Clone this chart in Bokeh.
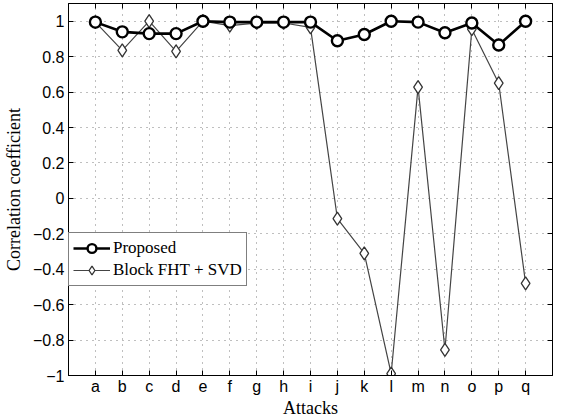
from bokeh.plotting import figure
from bokeh.models import (FixedTicker, LinearAxis, Legend, LegendItem, Range1d)
from bokeh.embed import file_html
from bokeh.resources import INLINE

attacks = list("abcdefghijklmnopq")
proposed = [0.995, 0.94, 0.93, 0.93, 1.0, 0.995, 0.995, 0.995, 0.995,
            0.89, 0.925, 1.0, 0.995, 0.935, 0.99, 0.866, 1.0]
block_fht_svd = [0.995, 0.835, 1.0, 0.83, 1.0, 0.975, 0.99, 0.99, 0.965,
                 -0.114, -0.311, -0.99, 0.628, -0.855, 0.955, 0.65, -0.48]
y_ticks = [-1, -0.8, -0.6, -0.4, -0.2, 0, 0.2, 0.4, 0.6, 0.8, 1]
y_tick_labels = ["\u22121", "\u22120.8", "\u22120.6", "\u22120.4", "\u22120.2",
                 "0", "0.2", "0.4", "0.6", "0.8", "1"]

x = list(range(1, len(attacks) + 1))

FW, FH = 484, 372
p = figure(frame_width=FW, frame_height=FH, output_backend="svg",
           toolbar_location=None,
           x_range=Range1d(0, 18), y_range=Range1d(-1, 1.1),
           min_border_left=58, min_border_top=3, min_border_right=3,
           min_border_bottom=2, background_fill_color="white",
           border_fill_color="white")
p.outline_line_color = "black"
p.outline_line_width = 1

# grid
for g in (p.xgrid, p.ygrid):
    g.grid_line_color = "black"
    g.grid_line_dash = "1 5"
    g.grid_line_alpha = 0.5
    g.grid_line_width = 1
p.xgrid.ticker = FixedTicker(ticks=x)
p.ygrid.ticker = FixedTicker(ticks=y_ticks)

tick_font = "Liberation Sans"
label_font = "Liberation Serif"

def style_axis(ax):
    ax.major_tick_in = 5
    ax.major_tick_out = 0
    ax.minor_tick_line_color = None
    ax.axis_line_color = "black"
    ax.major_tick_line_color = "black"
    ax.major_label_text_font = tick_font
    ax.major_label_text_font_size = "16px"
    ax.major_label_text_color = "black"
    ax.axis_label_text_font = label_font
    ax.axis_label_text_font_style = "normal"
    ax.axis_label_text_font_size = "18px"
    ax.axis_label_text_color = "black"

xa = p.xaxis[0]
xa.ticker = FixedTicker(ticks=x)
xa.major_label_overrides = {i: a for i, a in zip(x, attacks)}
xa.axis_label = "Attacks"
style_axis(xa)
xa.major_label_standoff = 2
xa.axis_label_standoff = 0

ya = p.yaxis[0]
ya.ticker = FixedTicker(ticks=y_ticks)
ya.major_label_overrides = {t: l for t, l in zip(y_ticks, y_tick_labels)}
ya.axis_label = "Correlation coefficient"
style_axis(ya)
ya.major_label_standoff = 4
ya.axis_label_standoff = 6

top = LinearAxis(ticker=FixedTicker(ticks=x))
style_axis(top)
top.major_label_overrides = {i: "" for i in x}
top.major_label_text_font_size = "1px"
top.major_label_standoff = 0
p.add_layout(top, "above")
right = LinearAxis(ticker=FixedTicker(ticks=y_ticks))
style_axis(right)
right.major_label_overrides = {t: "" for t in y_ticks}
right.major_label_text_font_size = "1px"
right.major_label_standoff = 0
p.add_layout(right, "right")

# series
bl = p.line(x, block_fht_svd, line_color="#444444", line_width=1.2)
bs = p.scatter(x, block_fht_svd, marker="diamond", size=13, line_color="#333333",
               line_width=1.3, fill_color="white")
pl = p.line(x, proposed, line_color="black", line_width=2.6)
ps = p.scatter(x, proposed, marker="circle", size=11, line_color="black",
               line_width=2.4, fill_color="white")

legend = Legend(items=[LegendItem(label="Proposed", renderers=[pl, ps]),
                       LegendItem(label="Block FHT + SVD", renderers=[bl, bs])],
                location=(0, int(round(FH * 0.5 / 2.1))))
legend.label_text_font = label_font
legend.label_text_font_size = "17px"
legend.label_text_color = "black"
legend.border_line_color = "black"
legend.border_line_width = 1
legend.background_fill_color = "white"
legend.background_fill_alpha = 1
legend.padding = 4
legend.margin = 0
legend.spacing = 0
legend.glyph_width = 37
legend.glyph_height = 22
legend.label_height = 22
legend.label_standoff = 3
p.add_layout(legend, "center")

open("out.html", "w").write(file_html(p, INLINE))
